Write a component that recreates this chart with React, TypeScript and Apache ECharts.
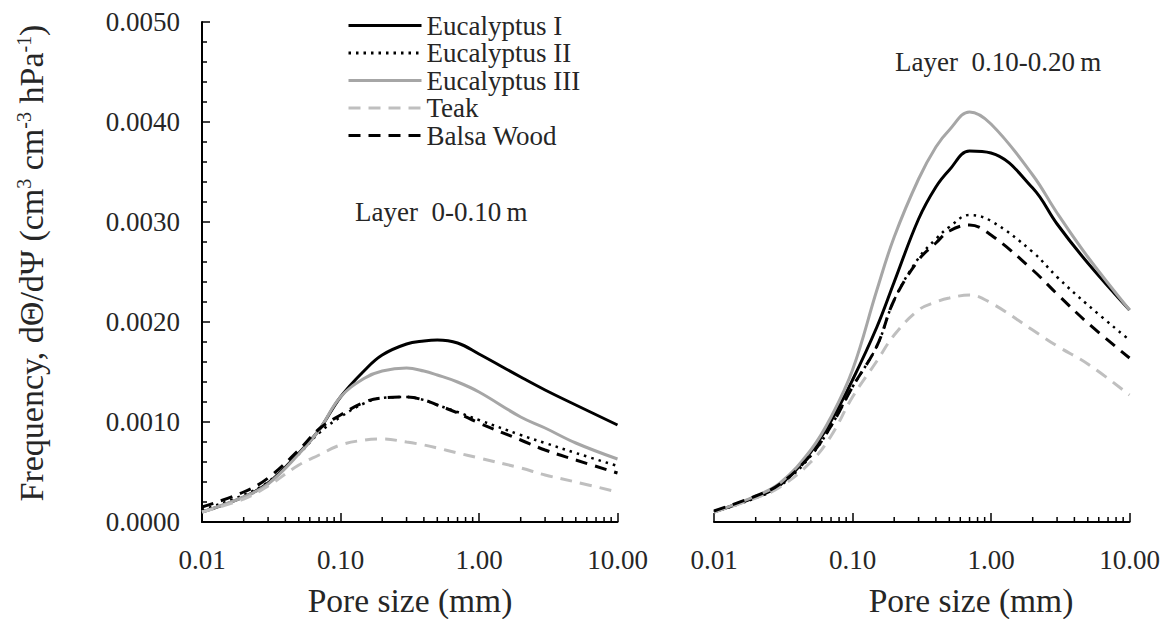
import React, { useEffect, useRef } from 'react';
import * as echarts from 'echarts';

// Pore size (mm) at which the curves are read
const poreSize = [0.01, 0.02, 0.03, 0.05, 0.07, 0.1, 0.15, 0.2, 0.3, 0.4, 0.5, 0.7, 1, 2, 3, 5, 10];

// Layer 0-0.10 m
const eucI_L1 = [0.0001, 0.00025, 0.00039, 0.00069, 0.00092, 0.00125, 0.00152, 0.00167, 0.00178, 0.00181, 0.00182, 0.00179, 0.00168, 0.00145, 0.00132, 0.00117, 0.00097];
const eucII_L1 = [0.00012, 0.00027, 0.0004, 0.00068, 0.00089, 0.00105, 0.00119, 0.00124, 0.00125, 0.00122, 0.00117, 0.0011, 0.00102, 0.00087, 0.00079, 0.00069, 0.00056];
const eucIII_L1 = [0.0001, 0.00025, 0.00038, 0.00068, 0.00092, 0.00125, 0.00144, 0.00151, 0.00154, 0.00151, 0.00147, 0.0014, 0.0013, 0.00105, 0.00094, 0.00079, 0.00063];
const teak_L1 = [0.0001, 0.00023, 0.00036, 0.00057, 0.00067, 0.00077, 0.00082, 0.00083, 0.0008, 0.00077, 0.00074, 0.00069, 0.00064, 0.00054, 0.00047, 0.0004, 0.0003];
const balsa_L1 = [0.00015, 0.0003, 0.00044, 0.00072, 0.00093, 0.00107, 0.0012, 0.00124, 0.00125, 0.00122, 0.00117, 0.00109, 0.00099, 0.00082, 0.00072, 0.00062, 0.00049];

// Layer 0.10-0.20 m
const eucI_L2 = [0.0001, 0.00025, 0.00037, 0.0007, 0.00101, 0.00142, 0.00195, 0.0024, 0.00303, 0.00335, 0.00352, 0.00371, 0.00369, 0.00334, 0.00298, 0.00259, 0.00212];
const eucII_L2 = [0.0001, 0.00024, 0.00036, 0.00066, 0.00096, 0.00135, 0.00176, 0.00222, 0.00264, 0.00283, 0.00295, 0.00307, 0.00301, 0.0027, 0.00245, 0.00217, 0.00182];
const eucIII_L2 = [0.0001, 0.00026, 0.00039, 0.00072, 0.00105, 0.00152, 0.00232, 0.00285, 0.00343, 0.00375, 0.00392, 0.0041, 0.00398, 0.00347, 0.00309, 0.00265, 0.00212];
const teak_L2 = [0.0001, 0.00024, 0.00035, 0.0006, 0.00086, 0.00125, 0.00161, 0.00187, 0.00212, 0.0022, 0.00224, 0.00227, 0.00219, 0.00192, 0.00176, 0.00158, 0.00127];
const balsa_L2 = [0.00011, 0.00026, 0.00038, 0.00067, 0.00096, 0.00135, 0.00176, 0.00222, 0.00262, 0.00279, 0.00291, 0.00297, 0.00287, 0.00252, 0.00228, 0.00199, 0.00164];

const seriesNames = ['Eucalyptus I', 'Eucalyptus II', 'Eucalyptus III', 'Teak', 'Balsa Wood'];
const minorTickValues = [0.02, 0.03, 0.04, 0.05, 0.06, 0.07, 0.08, 0.09, 0.2, 0.3, 0.4, 0.5, 0.6, 0.7, 0.8, 0.9, 2, 3, 4, 5, 6, 7, 8, 9];
const panelLabels = ['Layer\u00a0 0-0.10\u2009m', 'Layer\u00a0 0.10-0.20\u2009m'];
const xTitle = 'Pore size (mm)';

const FONT = 'Liberation Serif';
const TEXT = '#262626';

const styles: any[] = [
  { color: '#000000', width: 3, type: 'solid' },
  { color: '#000000', width: 2.5, type: [2.5, 5] },
  { color: '#a6a6a6', width: 3, type: 'solid' },
  { color: '#bfbfbf', width: 3, type: [12, 8] },
  { color: '#000000', width: 3, type: [12, 8] },
];

export default function App() {
  const ref = useRef<HTMLDivElement>(null);
  useEffect(() => {
    const chart = echarts.init(ref.current!, null, { renderer: 'svg' });
    const layers = [
      [eucI_L1, eucII_L1, eucIII_L1, teak_L1, balsa_L1],
      [eucI_L2, eucII_L2, eucIII_L2, teak_L2, balsa_L2],
    ];
    const series: any[] = [];
    layers.forEach((layer, g) => {
      layer.forEach((vals, i) => {
        series.push({
          type: 'line',
          name: seriesNames[i],
          xAxisIndex: g,
          yAxisIndex: g,
          data: poreSize.map((x, k) => [x, vals[k]]),
          showSymbol: false,
          symbol: 'none',
          smooth: 0.4,
          color: styles[i].color,
          lineStyle: { color: styles[i].color, width: styles[i].width, type: styles[i].type },
          z: 3,
        });
      });
      series.push({
        type: 'custom',
        xAxisIndex: g,
        yAxisIndex: g,
        silent: true,
        clip: false,
        z: 5,
        data: minorTickValues.map((v) => [v, 0]),
        renderItem: (params: any, api: any) => {
          const p = api.coord([api.value(0), 0]);
          return {
            type: 'line',
            shape: { x1: p[0], y1: p[1], x2: p[0], y2: p[1] - 5 },
            style: { stroke: '#000', lineWidth: 1.5 },
          };
        },
      });
    });

    const xAxisBase = (g: number) => ({
      type: 'log',
      logBase: 10,
      min: 0.01,
      max: 10,
      gridIndex: g,
      axisLine: { show: true, lineStyle: { color: '#000', width: 2 } },
      axisTick: { show: true, inside: true, length: 9, lineStyle: { color: '#000', width: 1.5 } },
      axisLabel: {
        formatter: (v: number) => v.toFixed(2),
        margin: 24,
        fontSize: 27,
        fontFamily: FONT,
        color: TEXT,
      },
      splitLine: { show: false },
    });

    chart.setOption({
      animation: false,
      backgroundColor: '#ffffff',
      textStyle: { fontFamily: FONT },
      grid: [
        { left: 202, right: 551.5, top: 22, bottom: 97 },
        { left: 714, right: 39.5, top: 22, bottom: 97 },
      ],
      legend: {
        data: seriesNames,
        orient: 'vertical',
        left: 347,
        top: 12,
        padding: 0,
        itemWidth: 73,
        itemHeight: 14,
        itemGap: 0.5,
        lineStyle: { width: 3 },
        itemStyle: { opacity: 0 },
        textStyle: { fontFamily: FONT, fontSize: 27, color: TEXT },
      },
      xAxis: [xAxisBase(0), xAxisBase(1)],
      yAxis: [
        {
          type: 'value',
          gridIndex: 0,
          min: 0,
          max: 0.005,
          interval: 0.001,
          axisLine: { show: true, lineStyle: { color: '#000', width: 2 } },
          axisTick: { show: true, inside: true, length: 8, lineStyle: { color: '#000', width: 1.5 } },
          minorTick: { show: true, splitNumber: 5, length: 5, lineStyle: { color: '#000', width: 1.5 } },
          axisLabel: {
            formatter: (v: number) => v.toFixed(4),
            margin: 22,
            fontSize: 27,
            fontFamily: FONT,
            color: TEXT,
          },
          splitLine: { show: false },
        },
        { type: 'value', gridIndex: 1, min: 0, max: 0.005, interval: 0.001, show: false },
      ],
      graphic: [
        {
          type: 'text',
          x: 31,
          y: 263,
          rotation: Math.PI / 2,
          style: {
            text: 'Frequency, dΘ/dΨ (cm{sup|3} cm{sup|-3} hPa{sup|-1})',
            fontFamily: FONT,
            fontSize: 34,
            fill: TEXT,
            align: 'center',
            verticalAlign: 'middle',
            rich: { sup: { fontSize: 20, fontFamily: FONT, fill: TEXT, verticalAlign: 'top' } },
          },
        },
        {
          type: 'text',
          x: 355,
          y: 212,
          style: { text: panelLabels[0], fontFamily: FONT, fontSize: 27, fill: TEXT, verticalAlign: 'middle' },
        },
        {
          type: 'text',
          x: 895,
          y: 62,
          style: { text: panelLabels[1], fontFamily: FONT, fontSize: 27, fill: TEXT, verticalAlign: 'middle' },
        },
        {
          type: 'text',
          x: 410,
          y: 600,
          style: { text: xTitle, fontFamily: FONT, fontSize: 33.5, fill: TEXT, align: 'center', verticalAlign: 'middle' },
        },
        {
          type: 'text',
          x: 971,
          y: 600,
          style: { text: xTitle, fontFamily: FONT, fontSize: 33.5, fill: TEXT, align: 'center', verticalAlign: 'middle' },
        },
      ],
      series,
    });
    return () => chart.dispose();
  }, []);
  return <div ref={ref} style={{ position: 'fixed', left: 0, top: 0, width: 1169, height: 619 }} />;
}
